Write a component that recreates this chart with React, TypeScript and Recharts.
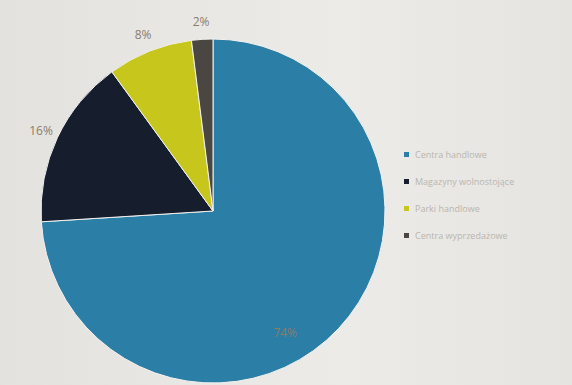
import { PieChart, Pie, Cell } from 'recharts';

const CATEGORIES = ['Centra handlowe', 'Magazyny wolnostojące', 'Parki handlowe', 'Centra wyprzedażowe'];
const SHARES = [74, 16, 8, 2];
const COLORS = ['#2b7ea6', '#161d2d', '#c6c61c', '#4a4742'];

const data = CATEGORIES.map((name, i) => ({ name, value: SHARES[i] }));

const RAD = Math.PI / 180;

/** Percent labels: outside for small slices, inside for the big one */
function renderLabel(props: any) {
  const { cx, cy, midAngle, outerRadius, index, value } = props;
  const inside = index === 0;
  const r = inside ? outerRadius * 0.82 : outerRadius + 18;
  const angle = inside ? midAngle - 16 : midAngle;
  const x = cx + r * Math.cos(-angle * RAD);
  const y = cy + r * Math.sin(-angle * RAD);
  return (
    <text
      x={x}
      y={y}
      fill="#8a7d6c"
      fontSize={12}
      fontFamily="'Open Sans', sans-serif"
      textAnchor="middle"
      dominantBaseline="central"
    >
      {value}%
    </text>
  );
}

export default function App() {
  return (
    <div
      style={{
        position: 'absolute',
        left: 0,
        top: 0,
        width: 572,
        height: 385,
        overflow: 'hidden',
        background: 'linear-gradient(90deg, #e4e2de 0%, #ecebe7 60%, #e6e4e0 100%)',
      }}
    >
      <PieChart width={572} height={385} margin={{ top: 0, right: 0, bottom: 0, left: 0 }}>
        <Pie
          data={data}
          dataKey="value"
          nameKey="name"
          cx={213}
          cy={211}
          outerRadius={172}
          startAngle={90}
          endAngle={-270}
          stroke="#f2f2f0"
          strokeWidth={1}
          label={renderLabel}
          labelLine={false}
          isAnimationActive={false}
        >
          {data.map((d, i) => (
            <Cell key={d.name} fill={COLORS[i]} />
          ))}
        </Pie>
      </PieChart>

      {/* legend */}
      <div
        style={{
          position: 'absolute',
          left: 404,
          top: 148,
          display: 'flex',
          flexDirection: 'column',
          gap: 14,
        }}
      >
        {CATEGORIES.map((name, i) => (
          <div key={name} style={{ display: 'flex', alignItems: 'center', gap: 6 }}>
            <span style={{ width: 5, height: 5, background: COLORS[i], display: 'inline-block' }} />
            <span
              style={{
                fontFamily: "'Open Sans', sans-serif",
                fontSize: 9,
                color: '#b9b5ae',
                whiteSpace: 'nowrap',
              }}
            >
              {name}
            </span>
          </div>
        ))}
      </div>
    </div>
  );
}
